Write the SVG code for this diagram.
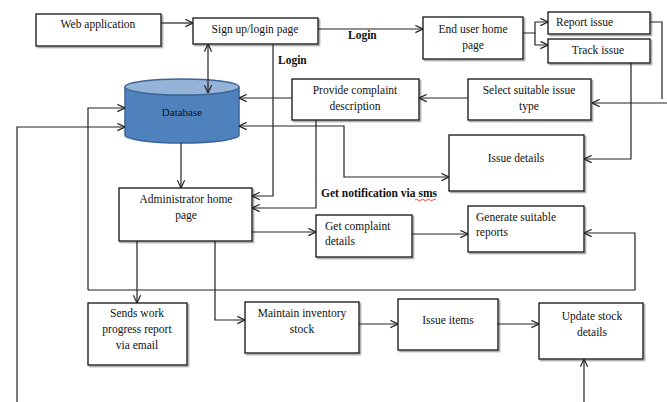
<svg xmlns="http://www.w3.org/2000/svg" width="667" height="402" viewBox="0 0 667 402">
<defs>
<marker id="arr" viewBox="0 0 10 10" refX="9.5" refY="5" markerWidth="9" markerHeight="9" markerUnits="userSpaceOnUse" orient="auto-start-reverse">
<path d="M1,1 L9.5,5 L1,9" fill="none" stroke="#222" stroke-width="1.3"/>
</marker>
<filter id="sh" x="-10%" y="-10%" width="130%" height="140%">
<feDropShadow dx="1.5" dy="1.5" stdDeviation="0.6" flood-color="#777" flood-opacity="0.7"/>
</filter>
</defs>
<style>
.box{fill:#fff;stroke:#111;stroke-width:1.3;filter:url(#sh)}
.t{font-family:"Liberation Serif","Times New Roman",serif;font-size:11.5px;fill:#111}
.c{text-anchor:middle}
.b{font-weight:bold}
.ln{fill:none;stroke:#222;stroke-width:1.2}
.a{marker-end:url(#arr)}
.a2{marker-start:url(#arr);marker-end:url(#arr)}
</style>
<rect width="667" height="402" fill="#fff"/>

<g id="web-application">
<rect class="box" x="36" y="14" width="125" height="32"/>
<text class="t c" x="98" y="28">Web application</text>
</g>

<g id="signup-login">
<rect class="box" x="193" y="18" width="125" height="26"/>
<text class="t c" x="255" y="33">Sign up/login page</text>
</g>

<g id="end-user-home">
<rect class="box" x="423" y="17" width="100" height="42"/>
<text class="t c" x="473" y="33">End user home</text>
<text class="t c" x="473" y="49">page</text>
</g>

<g id="report-issue">
<rect class="box" x="548" y="12" width="102" height="22"/>
<text class="t" x="556" y="26">Report issue</text>
</g>

<g id="track-issue">
<rect class="box" x="548" y="39" width="102" height="24"/>
<text class="t c" x="598" y="54">Track  issue</text>
</g>

<g id="database">
<path d="M125,87 V135 A57,8 0 0 0 239,135 V87" fill="#4F81BD" stroke="#3A6496" stroke-width="1.5"/>
<ellipse cx="182" cy="87" rx="57" ry="8" fill="#95B3D7" stroke="#3A6496" stroke-width="1.5"/>
<text class="t c" x="182" y="116" style="font-size:11px">Database</text>
</g>

<g id="provide-complaint">
<rect class="box" x="292" y="79" width="127" height="41"/>
<text class="t c" x="355" y="94">Provide complaint</text>
<text class="t c" x="355" y="110">description</text>
</g>

<g id="select-issue-type">
<rect class="box" x="468" y="79" width="123" height="41"/>
<text class="t c" x="529" y="94">Select  suitable issue</text>
<text class="t c" x="529" y="110">type</text>
</g>

<g id="issue-details">
<rect class="box" x="449" y="135" width="135" height="56"/>
<text class="t c" x="516" y="162">Issue  details</text>
</g>

<g id="admin-home">
<rect class="box" x="119" y="188" width="133" height="53"/>
<text class="t c" x="186" y="203">Administrator  home</text>
<text class="t c" x="186" y="219">page</text>
</g>

<g id="get-complaint-details">
<rect class="box" x="316" y="215" width="96" height="42"/>
<text class="t" x="325" y="230">Get complaint</text>
<text class="t" x="325" y="245">details</text>
</g>

<g id="generate-reports">
<rect class="box" x="468" y="206" width="116" height="46"/>
<text class="t" x="476" y="221">Generate  suitable</text>
<text class="t" x="476" y="236">reports</text>
</g>

<g id="sends-work-progress">
<rect class="box" x="88" y="303" width="99" height="62"/>
<text class="t c" x="137" y="317">Sends work</text>
<text class="t c" x="137" y="333">progress  report</text>
<text class="t c" x="137" y="349">via email</text>
</g>

<g id="maintain-inventory">
<rect class="box" x="245" y="302" width="114" height="51"/>
<text class="t c" x="302" y="317">Maintain inventory</text>
<text class="t c" x="302" y="333">stock</text>
</g>

<g id="issue-items">
<rect class="box" x="398" y="299" width="100" height="51"/>
<text class="t c" x="448" y="324">Issue  items</text>
</g>

<g id="update-stock">
<rect class="box" x="539" y="303" width="104" height="56"/>
<text class="t c" x="592" y="320">Update  stock</text>
<text class="t c" x="592" y="336">details</text>
</g>

<g id="connectors">
<path class="ln a" d="M161,23 H193"/>
<path class="ln a" d="M318,29 H423"/>
<path class="ln a2" d="M208,44 V93"/>
<path class="ln a" d="M273,44 V196 H252"/>
<path class="ln a" d="M292,98 H239"/>
<path class="ln a2" d="M239,126 H344 V177 H449"/>
<path class="ln a" d="M316,120 V208 H252"/>
<path class="ln a" d="M523,33 H535 V22 H548"/>
<path class="ln a" d="M535,33 V45 H548"/>
<path class="ln" d="M650,22 H662 V99"/>
<path class="ln a" d="M667,103 H592"/>
<path class="ln a" d="M468,98 H419"/>
<path class="ln a" d="M631,63 V159 H584"/>
<path class="ln a" d="M88,290 V108 H125"/>
<path class="ln a" d="M88,290 H635 V233 H584"/>
<path class="ln a" d="M17,402 V127 H125"/>
<path class="ln a" d="M181,143 V188"/>
<path class="ln a" d="M252,232 H316"/>
<path class="ln a" d="M412,234 H468"/>
<path class="ln a" d="M137,241 V303"/>
<path class="ln a" d="M215,241 V320 H245"/>
<path class="ln a" d="M359,324 H398"/>
<path class="ln a" d="M497,324 H539"/>
<path class="ln a" d="M584,402 V359"/>
</g>

<g id="labels">
<text class="t b" x="348" y="39">Login</text>
<text class="t b" x="278" y="64">Login</text>
<text class="t b" x="321" y="197">Get notification via sms</text>
<path d="M415,200 q1.5,-1.5 3,0 t3,0 t3,0 t3,0 t3,0 t3,0 t3,0" fill="none" stroke="#e03030" stroke-width="0.9"/>
</g>
</svg>
